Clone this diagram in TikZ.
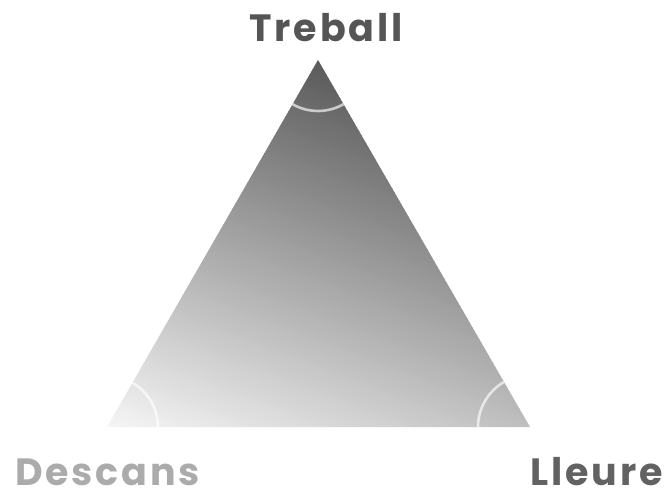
\documentclass[tikz,border=0pt]{standalone}
\usepackage{fontspec}
\setmainfont{Poppins}[LetterSpace=7.5]
\definecolor{dk}{HTML}{5A5A5A}
\definecolor{lt}{HTML}{F6F6F6}
\definecolor{lblA}{HTML}{555555}
\definecolor{lblB}{HTML}{ABABAB}
\definecolor{lblC}{HTML}{626262}
\tikzset{
  lbl/.style={inner sep=0pt, font=\fontsize{38}{40}\selectfont\bfseries},
  anglearc/.style={draw=white, draw opacity=0.65, line width=2.6pt}
}
\begin{document}
\begin{tikzpicture}[x=1pt,y=1pt]
\useasboundingbox (0,0) rectangle (669,493);
\coordinate (T) at (318,433);
\coordinate (L) at (107,66);
\coordinate (R) at (530,66);
\begin{scope}
  \clip (T) -- (L) -- (R) -- cycle;
  \begin{scope}[rotate=-20.5]
    \foreach \i in {0,...,139}{
      \pgfmathsetmacro{\p}{(\i+0.5)/140*100}
      \fill[dk!\p!lt] (40,{99+\i*2.993}) rectangle (520,{99+(\i+1)*2.993+0.6});
    }
  \end{scope}
\end{scope}
\draw[anglearc] (T) ++(240:51) arc[start angle=240, end angle=300, radius=51];
\draw[anglearc] (L) ++(0:51) arc[start angle=0, end angle=60, radius=51];
\draw[anglearc] (R) ++(120:52) arc[start angle=120, end angle=180, radius=52];
\node[lbl, text=lblA, anchor=base] (treball) at (326,451) {Treball};
\node[lbl, text=lblB, anchor=base west] (descans) at (15,8) {Descans};
\node[lbl, text=lblC, anchor=base east] (lleure) at (663,8) {Lleure};
\end{tikzpicture}
\end{document}
